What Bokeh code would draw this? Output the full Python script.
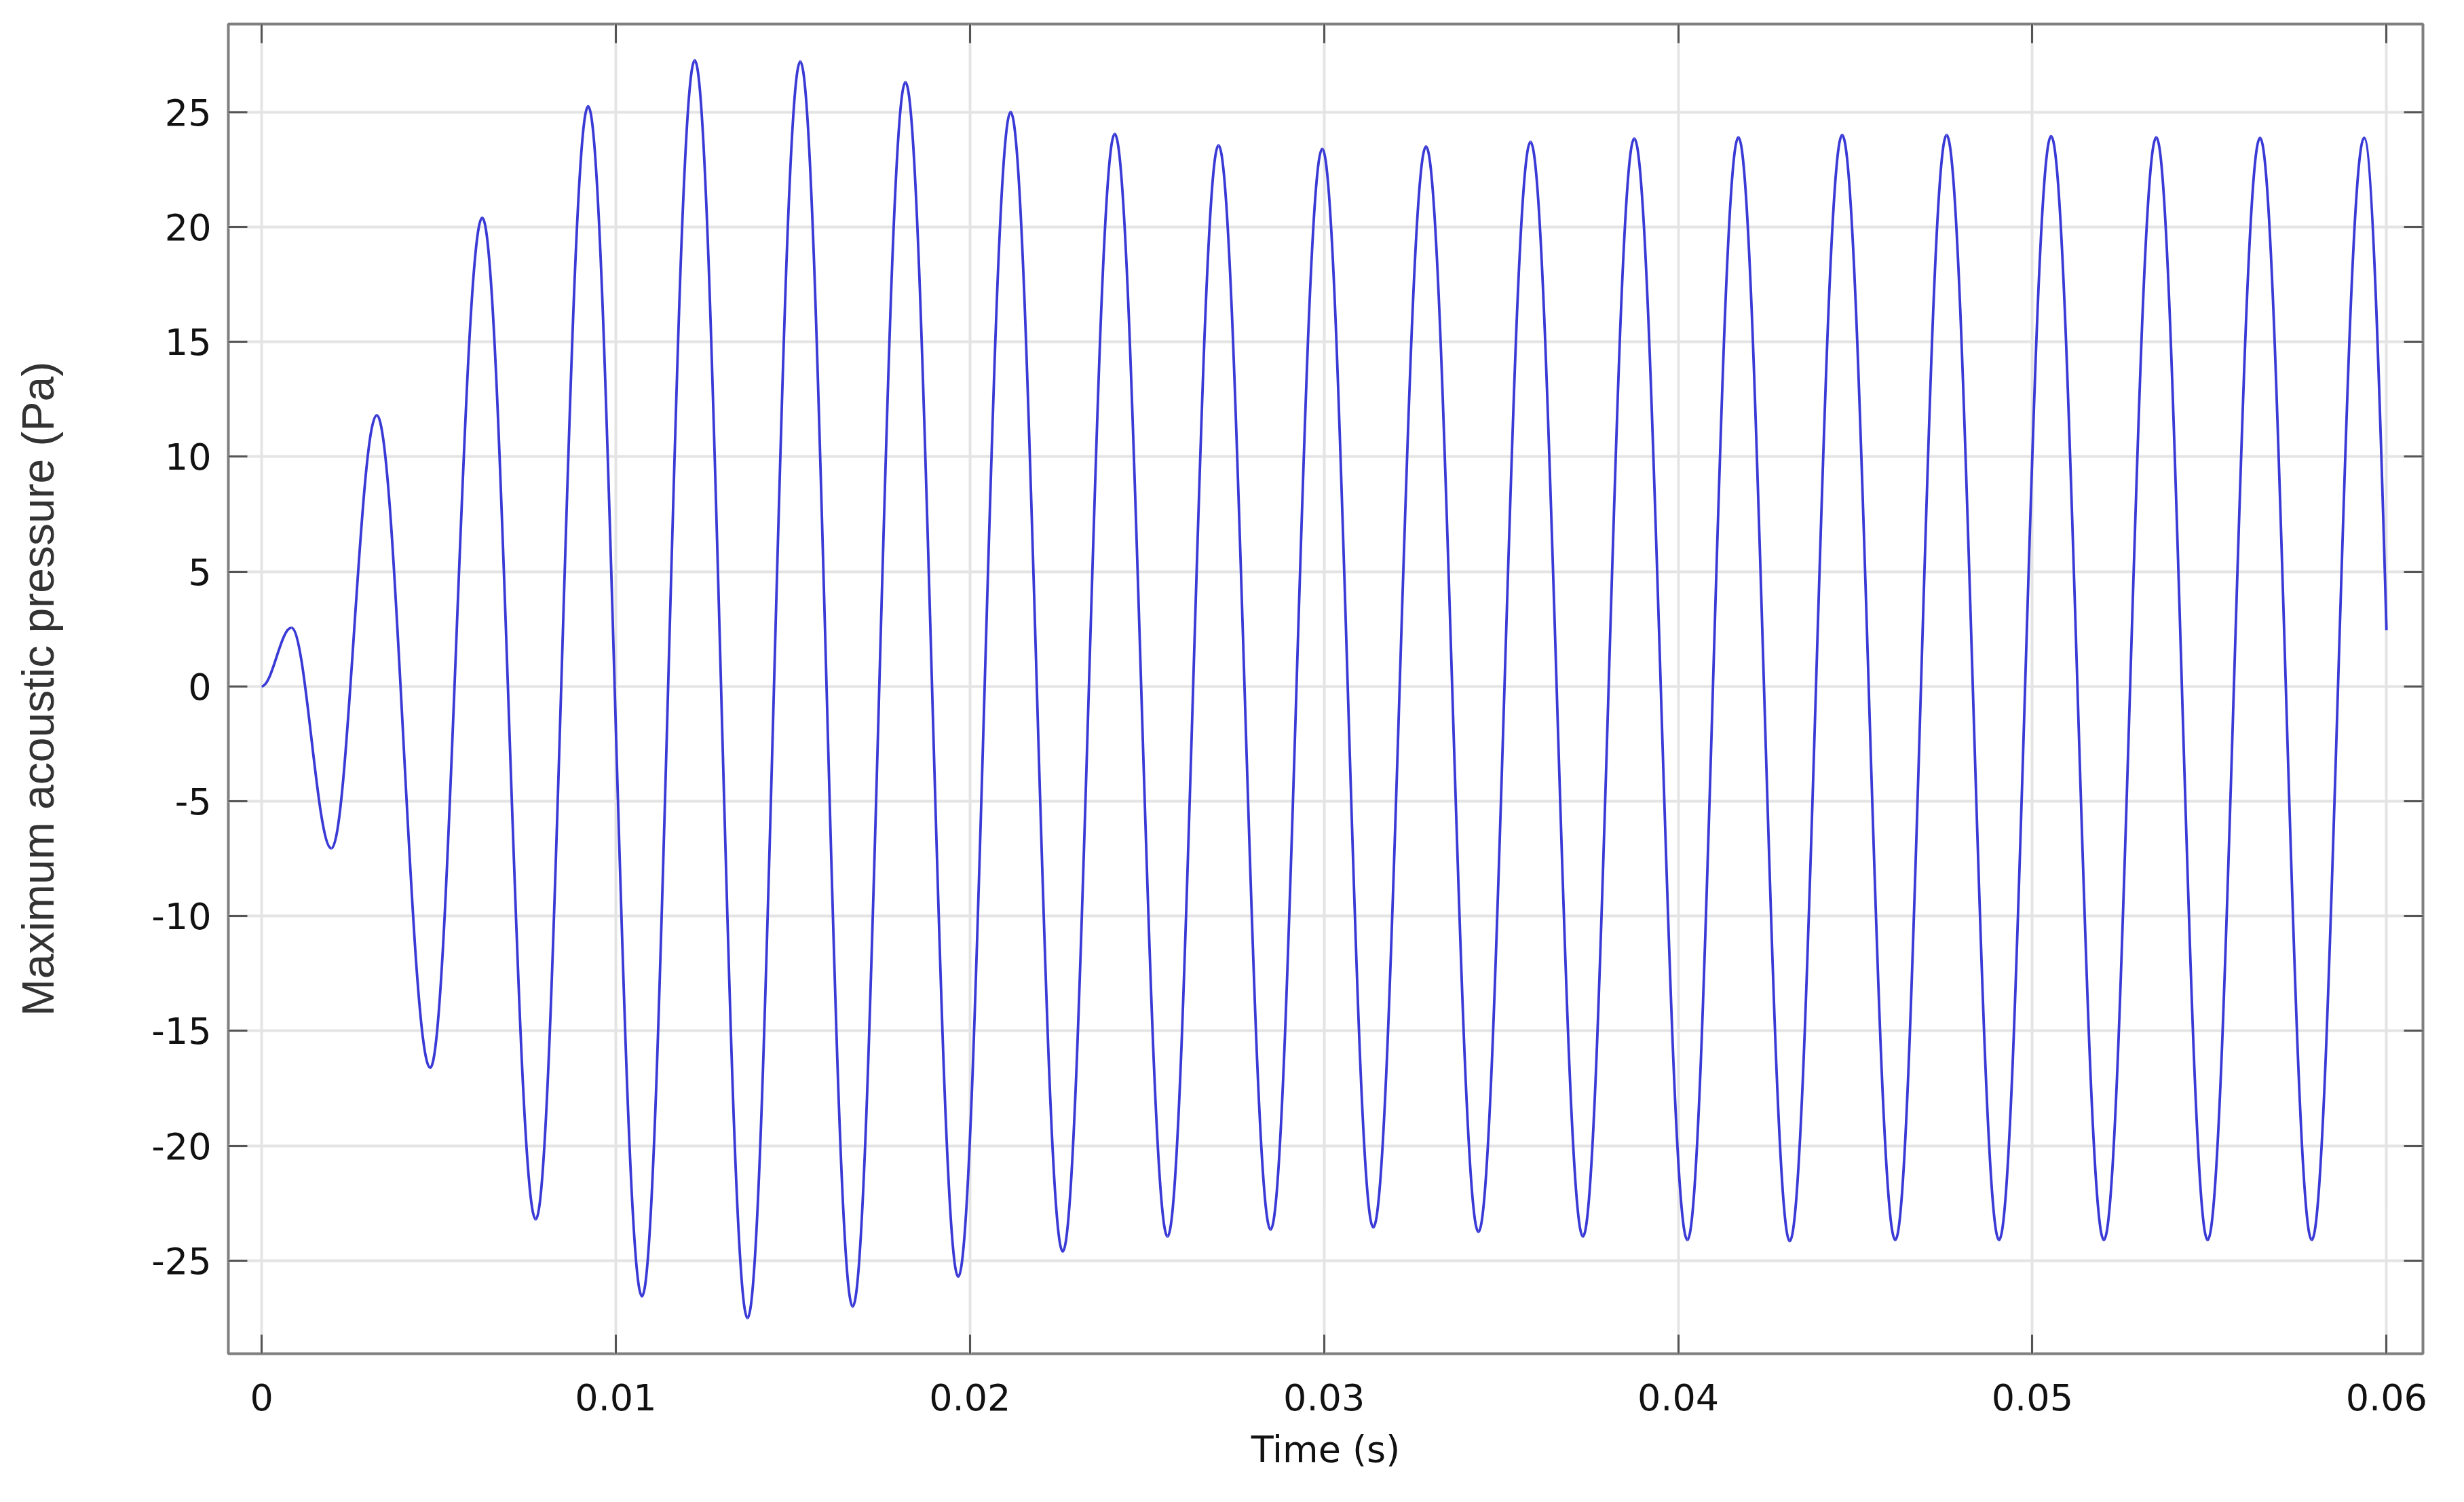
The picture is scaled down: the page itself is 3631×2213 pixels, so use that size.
from bokeh.plotting import figure
from bokeh.models import Range1d, FixedTicker, LinearAxis, CustomJSTickFormatter, ColumnDataSource
from bokeh.embed import file_html
from bokeh.resources import INLINE
import math

# ---- data (time in s, pressure in Pa) ----
# successive extrema of the waveform (starting point, then alternating peaks/troughs)
ext_t = [0.0, 0.00084, 0.00197, 0.00325, 0.00476, 0.00623, 0.00774, 0.00922,
         0.01074, 0.01223, 0.01372, 0.01521, 0.01669, 0.01818, 0.01967, 0.02115,
         0.02262, 0.02409, 0.02558, 0.02702, 0.02849, 0.02995, 0.03139, 0.03288,
         0.03436, 0.03583, 0.03731, 0.03876, 0.04026, 0.04170, 0.04315, 0.04463,
         0.04613, 0.04758, 0.04906, 0.05053, 0.05202, 0.05350, 0.05495, 0.05643,
         0.05789, 0.05937]
ext_p = [0.0, 2.55, -7.05, 11.8, -16.6, 20.4, -23.2, 25.25,
         -26.55, 27.25, -27.5, 27.2, -27.0, 26.3, -25.7, 25.0,
         -24.6, 24.05, -23.95, 23.55, -23.65, 23.4, -23.55, 23.5,
         -23.75, 23.7, -23.95, 23.85, -24.1, 23.9, -24.15, 24.0,
         -24.1, 24.0, -24.1, 23.95, -24.1, 23.9, -24.1, 23.88,
         -24.1, 23.88]
end_t = 0.0600
end_p = 2.45

x_ticks = [0, 0.01, 0.02, 0.03, 0.04, 0.05, 0.06]
x_tick_labels = ["0", "0.01", "0.02", "0.03", "0.04", "0.05", "0.06"]
y_ticks = [-25, -20, -15, -10, -5, 0, 5, 10, 15, 20, 25]

x_label = "Time (s)"
y_label = "Maximum acoustic pressure (Pa)"

# ---- smooth curve as cubic Bezier segments between extrema (horizontal tangents) ----
K = 0.3634
x0, y0, x1, y1, cx0, cy0, cx1, cy1 = [], [], [], [], [], [], [], []
for i in range(len(ext_t) - 1):
    a, b = ext_t[i], ext_t[i + 1]
    dx = b - a
    x0.append(a); y0.append(ext_p[i]); x1.append(b); y1.append(ext_p[i + 1])
    cx0.append(a + K * dx); cy0.append(ext_p[i])
    cx1.append(b - K * dx); cy1.append(ext_p[i + 1])
# final partial segment (last peak -> end of record)
a, b = ext_t[-1], end_t
dx = b - a
ya = ext_p[-1]
phi = math.acos(max(-1.0, min(1.0, end_p / ya)))
x0.append(a); y0.append(ya); x1.append(b); y1.append(end_p)
cx0.append(a + dx / 3); cy0.append(ya)
cx1.append(b - dx / 3); cy1.append(end_p + ya * phi * math.sin(phi) / 3)

src = ColumnDataSource(dict(x0=x0, y0=y0, x1=x1, y1=y1, cx0=cx0, cy0=cy0, cx1=cx1, cy1=cy1))

W, H = 3615, 2197
p = figure(width=W, height=H, output_backend="svg", toolbar_location=None,
           x_range=Range1d(-0.00094, 0.06103), y_range=Range1d(-29.05, 28.83),
           min_border_left=336, min_border_right=45, min_border_top=35, min_border_bottom=203)
p.background_fill_color = "white"
p.border_fill_color = "white"
p.outline_line_color = "#7f7f7f"
p.outline_line_width = 4

p.bezier(x0="x0", y0="y0", x1="x1", y1="y1", cx0="cx0", cy0="cy0", cx1="cx1", cy1="cy1",
         source=src, line_color="#3a3ad6", line_width=3.8)

fmt_code = """
var best = 0; var d = 1e9;
for (var i = 0; i < vals.length; i++) { var e = Math.abs(vals[i] - tick); if (e < d) { d = e; best = i; } }
return labs[best];
"""
xfmt = CustomJSTickFormatter(args=dict(vals=x_ticks, labs=x_tick_labels), code=fmt_code)
yfmt = CustomJSTickFormatter(code="return String(Math.round(tick));")

FONT = "DejaVu Sans"
for ax in p.xaxis:
    ax.ticker = FixedTicker(ticks=x_ticks)
    ax.formatter = xfmt
for ax in p.yaxis:
    ax.ticker = FixedTicker(ticks=y_ticks)
    ax.formatter = yfmt

for ax in list(p.xaxis) + list(p.yaxis):
    ax.axis_line_color = None
    ax.major_tick_in = 28
    ax.major_tick_out = 0
    ax.major_tick_line_color = "#555555"
    ax.major_tick_line_width = 3
    ax.minor_tick_line_color = None
    ax.major_label_text_font = FONT
    ax.major_label_text_font_size = "54px"
    ax.major_label_text_color = "#111111"
    ax.axis_label_text_font_style = "normal"

p.xaxis.axis_label = x_label
p.xaxis.axis_label_text_font = FONT
p.xaxis.axis_label_text_font_size = "54px"
p.xaxis.axis_label_text_color = "#111111"
p.xaxis.major_label_standoff = 44
p.xaxis.axis_label_standoff = 23

p.yaxis.axis_label = y_label
p.yaxis.axis_label_text_font = "Liberation Sans"
p.yaxis.axis_label_text_font_size = "66px"
p.yaxis.axis_label_text_color = "#333333"
p.yaxis.major_label_standoff = 25
p.yaxis.axis_label_standoff = 127

# mirrored axes (top, right) with inward ticks and no labels
empty = CustomJSTickFormatter(code="return '';")
top = LinearAxis(ticker=FixedTicker(ticks=x_ticks), formatter=empty)
right = LinearAxis(ticker=FixedTicker(ticks=y_ticks), formatter=empty)
for ax in (top, right):
    ax.axis_line_color = None
    ax.major_tick_in = 28
    ax.major_tick_out = 0
    ax.major_tick_line_color = "#555555"
    ax.major_tick_line_width = 3
    ax.minor_tick_line_color = None
    ax.major_label_text_font_size = "1px"
    ax.major_label_standoff = 0
p.add_layout(top, "above")
p.add_layout(right, "right")

p.xgrid.ticker = FixedTicker(ticks=x_ticks)
p.ygrid.ticker = FixedTicker(ticks=y_ticks)
for g in (p.xgrid, p.ygrid):
    g.grid_line_color = "#e4e4e4"
    g.grid_line_width = 4

open("out.html", "w").write(file_html(p, INLINE))
